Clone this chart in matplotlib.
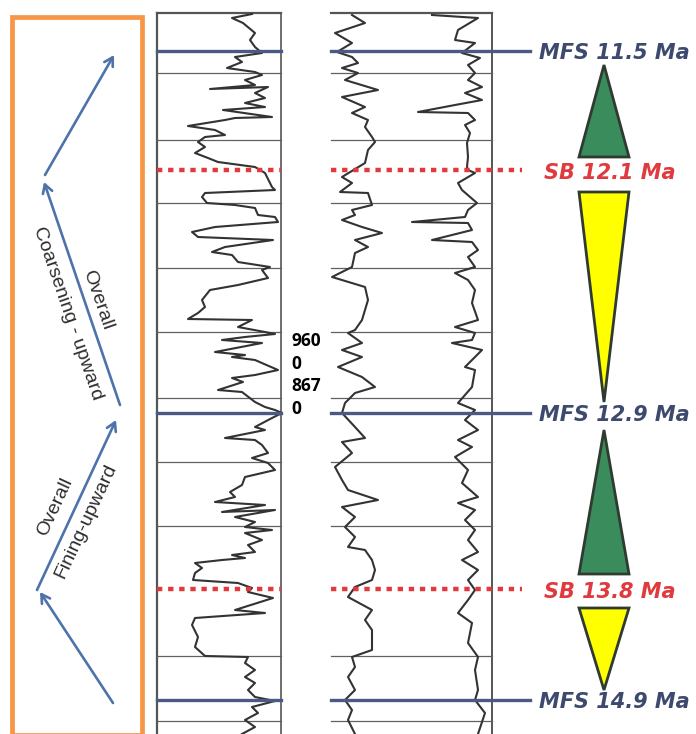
import matplotlib.pyplot as plt
from matplotlib.patches import Rectangle, Polygon, FancyArrowPatch

# curve traces (x in track pixels, y = depth in pixels)
log_a = [(252, 14), (232, 18), (243, 23), (255, 33), (250, 40), (255, 47), (262, 53), (235, 57), (242, 62),
         (227, 68), (255, 72), (262, 75), (245, 80), (255, 85), (210, 89), (268, 87), (255, 93), (265, 98),
         (245, 103), (265, 107), (223, 110), (272, 117), (235, 118), (225, 120), (188, 126), (215, 130),
         (225, 135), (205, 137), (198, 142), (205, 147), (195, 153), (208, 158), (218, 162), (255, 167),
         (265, 173), (272, 187), (275, 190), (205, 193), (202, 197), (207, 203), (235, 205), (255, 208),
         (258, 215), (275, 217), (278, 222), (215, 227), (192, 232), (198, 237), (273, 240), (225, 247),
         (212, 252), (232, 255), (238, 262), (270, 267), (262, 270), (268, 278), (238, 285), (210, 290),
         (202, 300), (205, 307), (198, 313), (188, 319), (252, 320), (238, 327), (265, 332), (275, 334),
         (245, 337), (222, 340), (262, 343), (215, 352), (245, 355), (232, 357), (255, 360), (278, 370),
         (255, 375), (232, 378), (243, 382), (218, 390), (242, 392), (255, 402), (265, 407), (275, 410),
         (282, 413), (272, 418), (255, 427), (265, 430), (225, 438), (255, 440), (262, 445), (268, 453),
         (252, 458), (268, 463), (275, 470), (245, 477), (242, 485), (230, 492), (235, 497), (215, 502),
         (265, 505), (222, 512), (275, 510), (235, 517), (255, 522), (245, 527), (272, 530), (245, 533),
         (262, 540), (248, 545), (255, 552), (232, 555), (245, 558), (222, 560), (195, 563), (202, 568),
         (195, 573), (193, 580), (238, 583), (252, 588), (248, 592), (273, 598), (235, 610), (265, 613),
         (195, 618), (192, 625), (198, 637), (195, 647), (205, 656), (248, 657), (245, 663), (255, 670),
         (245, 677), (255, 683), (248, 690), (255, 697), (275, 701), (252, 707), (258, 713), (245, 720),
         (255, 727), (242, 734)]

log_b = [(352, 15), (365, 23), (335, 33), (352, 43), (337, 52), (352, 57), (358, 63), (342, 68), (358, 73),
         (345, 80), (378, 90), (342, 97), (365, 107), (352, 113), (368, 120), (365, 127), (372, 137),
         (375, 142), (368, 150), (365, 163), (342, 177), (352, 183), (340, 192), (368, 193), (372, 205),
         (352, 210), (355, 215), (342, 220), (362, 227), (382, 233), (355, 240), (368, 247), (355, 253),
         (352, 267), (332, 277), (365, 287), (368, 300), (362, 320), (355, 330), (348, 333), (362, 343),
         (342, 350), (362, 357), (338, 367), (362, 377), (375, 387), (355, 393), (345, 403), (342, 413),
         (355, 427), (365, 438), (342, 442), (352, 453), (335, 467), (342, 480), (348, 490), (378, 500),
         (342, 507), (355, 517), (345, 527), (355, 537), (348, 547), (365, 550), (372, 560), (375, 570),
         (372, 580), (355, 587), (348, 597), (372, 610), (365, 620), (372, 630), (372, 650), (352, 657),
         (355, 667), (348, 677), (355, 690), (345, 700), (352, 710), (348, 720), (355, 734)]

log_c = [(432, 15), (478, 18), (458, 30), (455, 40), (475, 43), (462, 53), (480, 58), (468, 65), (475, 73),
         (468, 80), (482, 87), (465, 93), (482, 100), (455, 105), (418, 112), (468, 113), (475, 120),
         (465, 125), (470, 133), (467, 143), (468, 157), (467, 167), (468, 170), (475, 173), (458, 183),
         (462, 190), (477, 203), (468, 210), (465, 217), (412, 222), (468, 223), (472, 230), (432, 240),
         (472, 242), (478, 250), (468, 257), (475, 267), (455, 273), (468, 280), (475, 290), (472, 303),
         (478, 320), (455, 327), (475, 333), (472, 340), (452, 343), (482, 350), (472, 360), (465, 367),
         (475, 370), (472, 387), (458, 403), (475, 410), (465, 420), (478, 430), (458, 440), (472, 447),
         (455, 457), (468, 470), (462, 483), (478, 497), (458, 503), (475, 510), (465, 520), (475, 530),
         (468, 540), (478, 552), (462, 560), (478, 570), (468, 580), (475, 590), (468, 600), (458, 613),
         (472, 623), (468, 643), (478, 657), (475, 670), (478, 690), (475, 700), (485, 713), (478, 734)]

grid_depths = [73, 140, 203, 268, 332, 398, 462, 526, 656, 721]

surface_names = ["MFS 11.5 Ma", "SB 12.1 Ma", "MFS 12.9 Ma", "SB 13.8 Ma", "MFS 14.9 Ma"]
surface_depths = [51, 170, 413, 589, 700]
surface_kinds = ["mfs", "sb", "mfs", "sb", "mfs"]

# systems tracts: (shape, top, bottom)
tracts = [("up", 65, 157), ("down", 192, 402), ("up", 430, 574), ("down", 608, 690)]

# left panel trend arrows (start, end)
trend_arrows = [((113, 703), (40, 592)), ((37, 590), (116, 420)),
                ((120, 405), (44, 182)), ((45, 175), (114, 55))]

well_label = ["960", "0", "867", "0"]

W, H = 696, 734
fig = plt.figure(figsize=(W / 100, H / 100), dpi=100)
ax = fig.add_axes([0, 0, 1, 1])
ax.set_xlim(0, W)
ax.set_ylim(H, 0)
ax.axis("off")

track_l = (157, 281)
track_r = (331, 492)
top = 13
blue = "#4a5a82"
red = "#e0393e"

# frame of log
ax.plot([track_l[0], track_l[0]], [top, H], color="#555555", lw=1.6)
ax.plot([track_l[1], track_l[1]], [top, H], color="#555555", lw=1.2)
ax.plot([track_r[1], track_r[1]], [top, H], color="#555555", lw=1.4)
ax.plot([track_l[0], track_l[1]], [top, top], color="#555555", lw=1.6)
ax.plot([track_r[0], track_r[1]], [top, top], color="#555555", lw=1.6)

for d in grid_depths:
    for x0, x1 in (track_l, track_r):
        ax.plot([x0, x1], [d, d], color="#606060", lw=0.9)

for crv in (log_a, log_b, log_c):
    ax.plot([p[0] for p in crv], [p[1] for p in crv], color="#333333", lw=1.5, solid_joinstyle="round")

# surfaces
lab_kw = dict(fontsize=15, fontweight="bold", fontstyle="italic", family="DejaVu Sans",
              va="center", ha="left")
for name, d, kind in zip(surface_names, surface_depths, surface_kinds):
    if kind == "mfs":
        ax.plot([track_l[0], track_l[1]], [d, d], color=blue, lw=2.4)
        ax.plot([track_r[0], 530], [d, d], color=blue, lw=2.4)
        ax.text(539, d + 2, name, color="#3d4a6e", **lab_kw)
    else:
        ax.plot([track_l[0], track_l[1]], [d, d], color=red, lw=3.2, linestyle=(0, (1.2, 1.3)))
        ax.plot([track_r[0], 522], [d, d], color=red, lw=3.2, linestyle=(0, (1.2, 1.3)))
        ax.text(544, d + 3, name, color=red, **lab_kw)

# triangles
cx, hw = 604, 25
for shape, t, b in tracts:
    if shape == "up":
        pts = [(cx, t), (cx - hw, b), (cx + hw, b)]
        fc = "#3a8c5c"
    else:
        pts = [(cx - hw, t), (cx + hw, t), (cx, b)]
        fc = "#ffff00"
    ax.add_patch(Polygon(pts, closed=True, facecolor=fc, edgecolor="#2f3b30", lw=2, joinstyle="miter"))

# gap label
for i, s in enumerate(well_label):
    ax.text(291, 341 + i * 22.6, s, fontsize=12.5, fontweight="bold", family="Open Sans",
            va="center", ha="left", color="black")

# left panel
ax.add_patch(Rectangle((12, 17), 130, 718, facecolor="none", edgecolor="#f79646", lw=3.4))
for (x0, y0), (x1, y1) in trend_arrows:
    ax.add_patch(FancyArrowPatch((x0, y0), (x1, y1), arrowstyle="->,head_length=6,head_width=3.5",
                                 color="#4e73ab", lw=1.9, shrinkA=0, shrinkB=0))

txt_kw = dict(fontsize=14, family="Liberation Sans", color="#2e2e2e", ha="center", va="center")
ax.text(97, 300, "Overall", rotation=-71, **txt_kw)
ax.text(68, 313, "Coarsening - upward", rotation=-71, **txt_kw)
ax.text(55, 507, "Overall", rotation=65, **txt_kw)
ax.text(86, 521, "Fining-upward", rotation=65, **txt_kw)

fig.savefig("out.png", dpi=100)
